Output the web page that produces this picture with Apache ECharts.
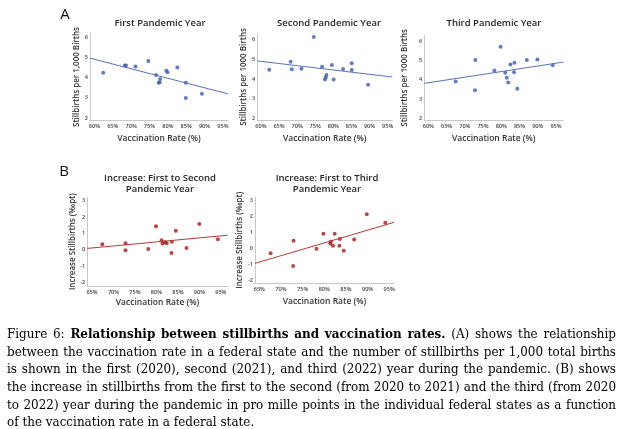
<!DOCTYPE html>
<html><head><meta charset="utf-8">
<script src="https://cdn.jsdelivr.net/npm/echarts@6/dist/echarts.min.js"></script>
<style>html,body{margin:0;padding:0;background:#fff}#c{width:624px;height:429px}</style>
</head><body><div id="c"></div>
<script>
// ---------- data ----------
const xTicksA = [60, 65, 70, 75, 80, 85, 90, 95];
const xTicksB = [65, 70, 75, 80, 85, 90, 95];
const yTicksA = [2, 3, 4, 5, 6];
const yTicksB = [-2, -1, 0, 1, 2, 3];

const vacA1 = [62.4, 68.3, 68.6, 71.2, 74.7, 76.8, 77.5, 77.8, 77.9, 79.6, 79.9, 82.6, 84.9, 84.9, 89.3];
const stillA1 = [4.25, 4.6, 4.6, 4.55, 4.83, 4.13, 3.75, 3.78, 3.93, 4.35, 4.27, 4.5, 3.75, 3.0, 3.2];

const vacA2 = [62.3, 68.2, 68.5, 71.2, 74.6, 76.9, 77.7, 77.9, 78.1, 79.6, 80.1, 82.7, 85.1, 85.1, 89.6];
const stillA2 = [4.47, 4.87, 4.49, 4.52, 6.12, 4.62, 3.98, 4.07, 4.2, 4.7, 3.98, 4.5, 4.79, 4.45, 3.71];

const vacA3 = [67.5, 72.9, 72.8, 78.1, 79.8, 81.1, 81.5, 81.9, 82.5, 83.5, 83.6, 84.4, 87.0, 89.9, 94.1];
const stillA3 = [3.9, 5.02, 3.45, 4.47, 5.7, 4.36, 4.1, 3.86, 4.79, 4.38, 4.88, 3.53, 5.02, 5.05, 4.74];

const vacB1 = [67.4, 72.8, 72.8, 78.1, 79.9, 81.2, 81.4, 82.0, 82.4, 83.6, 83.5, 84.5, 87.0, 90.0, 94.3];
const incB1 = [0.34, 0.40, -0.03, 0.05, 1.43, 0.58, 0.38, 0.46, 0.40, 0.5, -0.19, 1.17, 0.11, 1.58, 0.64];

const vacB2 = [67.6, 72.9, 72.8, 78.2, 79.8, 81.4, 81.5, 82.0, 82.4, 83.5, 83.6, 84.5, 86.9, 89.8, 94.1];
const incB2 = [-0.31, 0.47, -1.12, -0.03, 0.91, 0.30, 0.41, 0.15, 0.91, 0.15, 0.57, -0.16, 0.55, 2.12, 1.6];

// fitted trend lines (end points)
const trendA1X = [58.8, 96.4], trendA1Y = [4.97, 3.20];
const trendA2X = [59.0, 96.3], trendA2Y = [4.91, 4.10];
const trendA3X = [58.9, 97.0], trendA3Y = [3.81, 4.91];
const trendB1X = [63.9, 96.6], trendB1Y = [0.09, 0.89];
const trendB2X = [64.0, 96.1], trendB2Y = [-0.95, 1.62];

const panelTitles = [
  "First Pandemic Year", "Second Pandemic Year", "Third Pandemic Year",
  "Increase: First to Second\nPandemic Year", "Increase: First to Third\nPandemic Year"
];
const yNames = [
  "Stillbirths per 1,000 Births", "Stillbirths per 1000 Births", "Stillbirths per 1000 Births",
  "Increase Stillbirths (‰pt)", "Increase Stillbirths (‰pt)"
];
const xName = "Vaccination Rate (%)";
const panelLetters = ["A", "B"];

const captionLines = [
  [["Figure 6:", false], ["Relationship between stillbirths and vaccination rates.", true], ["(A) shows the relationship", false]],
  [["between the vaccination rate in a federal state and the number of stillbirths per 1,000 total births", false]],
  [["is shown in the first (2020), second (2021), and third (2022) year during the pandemic. (B) shows", false]],
  [["the increase in stillbirths from the first to the second (from 2020 to 2021) and the third (from 2020", false]],
  [["to 2022) year during the pandemic in pro mille points in the individual federal states as a function", false]],
  [["of the vaccination rate in a federal state.", false]]
];

// ---------- layout ----------
const SANS = '"Open Sans", "Noto Sans", sans-serif';
const BLUE = '#3f5ca8', BLUE_LINE = '#5873b4';
const RED = '#a31a1a', RED_LINE = '#b33a3a';

const panels = [
  {grid: {left: 90, top: 33.3, width: 138, height: 87.4}, xr: [58.8, 96.4], yr: [1.87, 6.2], xt: xTicksA, yt: yTicksA,
   x: vacA1, y: stillA1, tx: trendA1X, ty: trendA1Y, c: BLUE, lc: BLUE_LINE, nameGapY: 9, nameGapX: 13, tc: [160, 23]},
  {grid: {left: 257.3, top: 34, width: 135, height: 86}, xr: [59.0, 96.3], yr: [1.93, 6.27], xt: xTicksA, yt: yTicksA,
   x: vacA2, y: stillA2, tx: trendA2X, ty: trendA2Y, c: BLUE, lc: BLUE_LINE, nameGapY: 10, nameGapX: 14, tc: [329, 23]},
  {grid: {left: 424.3, top: 35, width: 139, height: 85.7}, xr: [58.9, 97.0], yr: [1.88, 6.31], xt: xTicksA, yt: yTicksA,
   x: vacA3, y: stillA3, tx: trendA3X, ty: trendA3Y, c: BLUE, lc: BLUE_LINE, nameGapY: 16, nameGapX: 13, tc: [494, 23]},
  {grid: {left: 87.3, top: 197.3, width: 140.4, height: 88.7}, xr: [63.9, 96.6], yr: [-2.2, 3.2], xt: xTicksB, yt: yTicksB,
   x: vacB1, y: incB1, tx: trendB1X, ty: trendB1Y, c: RED, lc: RED_LINE, nameGapY: 8, nameGapX: 12, tc: [160, 183.8]},
  {grid: {left: 255, top: 197.3, width: 139, height: 86}, xr: [64.0, 96.1], yr: [-2.2, 3.19], xt: xTicksB, yt: yTicksB,
   x: vacB2, y: incB2, tx: trendB2X, ty: trendB2Y, c: RED, lc: RED_LINE, nameGapY: 8, nameGapX: 14, tc: [327, 183.8]}
];

const grids = [], xAxes = [], yAxes = [], series = [], graphics = [];
const axisLineStyle = {color: '#c8c8c8', width: 1};
panels.forEach((p, i) => {
  grids.push(Object.assign({containLabel: false}, p.grid));
  xAxes.push({
    type: 'value', gridIndex: i, min: p.xr[0], max: p.xr[1],
    axisLine: {show: true, onZero: false, lineStyle: axisLineStyle},
    axisTick: {show: false}, splitLine: {show: false},
    axisLabel: {customValues: p.xt, formatter: '{value}%', fontSize: 5.6, color: '#444', margin: 3, fontFamily: SANS, fontWeight: 600},
    name: xName, nameLocation: 'middle', nameGap: p.nameGapX,
    nameTextStyle: {fontSize: 8.5, fontWeight: 600, color: '#333', fontFamily: SANS}
  });
  yAxes.push({
    type: 'value', gridIndex: i, min: p.yr[0], max: p.yr[1],
    axisLine: {show: true, onZero: false, lineStyle: axisLineStyle},
    axisTick: {show: false}, splitLine: {show: false},
    axisLabel: {customValues: p.yt, fontSize: 5.6, color: '#444', margin: 2, fontFamily: SANS, fontWeight: 600},
    name: yNames[i], nameLocation: 'middle', nameRotate: 90, nameGap: p.nameGapY,
    nameTextStyle: {fontSize: 8, fontWeight: 600, color: '#333', fontFamily: SANS}
  });
  series.push({
    type: 'scatter', xAxisIndex: i, yAxisIndex: i, symbol: 'circle', symbolSize: 4,
    itemStyle: {color: p.c}, data: p.x.map((v, k) => [v, p.y[k]]), silent: true
  });
  series.push({
    type: 'line', xAxisIndex: i, yAxisIndex: i, symbol: 'none', silent: true,
    lineStyle: {color: p.lc, width: 1}, data: p.tx.map((v, k) => [v, p.ty[k]])
  });
  graphics.push({
    type: 'text', x: p.tc[0], y: p.tc[1], silent: true,
    style: {text: panelTitles[i], fontSize: 9.5, fontWeight: 600, fontFamily: SANS, fill: '#262626',
            align: 'center', verticalAlign: 'middle', lineHeight: 11}
  });
});
graphics.push({type: 'text', x: 65, y: 15, style: {text: panelLetters[0], fontSize: 15, fontFamily: SANS, fill: '#111', align: 'center', verticalAlign: 'middle'}});
graphics.push({type: 'text', x: 64, y: 172, style: {text: panelLetters[1], fontSize: 15, fontFamily: SANS, fill: '#111', align: 'center', verticalAlign: 'middle'}});

// ---------- caption (justified, word by word) ----------
const capLeft = 7, capRight = 616, capTop = 335, capStep = 17.6;
const SERIF = '"DejaVu Serif", "Liberation Serif", serif';
const mctx = document.createElement('canvas').getContext('2d');
function fontStr(bold, size) { return (bold ? 'bold ' : '') + size + 'px ' + SERIF; }
function measure(t, bold, size) { mctx.font = fontStr(bold, size); return mctx.measureText(t).width; }
function wordsOf(line) {
  const out = [];
  line.forEach(seg => seg[0].split(' ').forEach(wd => { if (wd) out.push([wd, seg[1]]); }));
  return out;
}
let capSize = 12;
const avail = capRight - capLeft;
let maxNat = 0;
captionLines.slice(0, -1).forEach(line => {
  const ws = wordsOf(line);
  const nat = ws.reduce((s, w) => s + measure(w[0], w[1], capSize), 0) + (ws.length - 1) * measure(' ', false, capSize);
  maxNat = Math.max(maxNat, nat);
});
if (maxNat > avail * 0.99) capSize = capSize * avail * 0.99 / maxNat;
captionLines.forEach((line, li) => {
  const ws = wordsOf(line);
  const widths = ws.map(w => measure(w[0], w[1], capSize));
  const sum = widths.reduce((a, b) => a + b, 0);
  const isLast = li === captionLines.length - 1;
  const gap = isLast ? measure(' ', false, capSize) : (avail - sum) / (ws.length - 1);
  let x = capLeft;
  ws.forEach((w, k) => {
    graphics.push({type: 'text', x: x, y: capTop + li * capStep, silent: true,
      style: {text: w[0], font: fontStr(w[1], capSize), fill: '#000', align: 'left', verticalAlign: 'middle'}});
    x += widths[k] + gap;
  });
});

const chart = echarts.init(document.getElementById('c'), null, {renderer: 'canvas'});
chart.setOption({
  animation: false, backgroundColor: '#fff',
  grid: grids, xAxis: xAxes, yAxis: yAxes, series: series, graphic: graphics
});
</script></body></html>
